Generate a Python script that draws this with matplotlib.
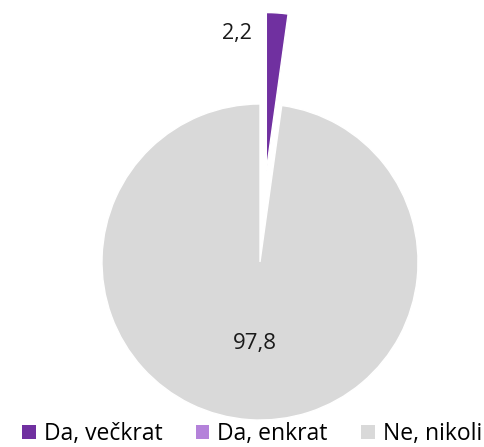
import matplotlib.pyplot as plt
from matplotlib.patches import Patch

labels = ["Da, večkrat", "Da, enkrat", "Ne, nikoli"]
values = [2.2, 0.0, 97.8]
colors = ["#7030A0", "#B482DA", "#D9D9D9"]
explode = [0.58, 0.0, 0.0]

plt.rcParams['font.family'] = ['Open Sans', 'DejaVu Sans']

fig = plt.figure(figsize=(4.85, 4.47), dpi=100)
ax = fig.add_axes([0, 0, 1, 1])

cx, cy, r = 260, 185, 158
# pie explode is in data units, so scale it by the radius
wedges, _ = ax.pie(values, colors=colors, explode=[e * r for e in explode],
                   startangle=90, counterclock=False, center=(cx, cy), radius=r,
                   wedgeprops=dict(edgecolor='white', linewidth=1.0))
ax.set_xlim(0, 485)
ax.set_ylim(0, 447)
ax.set_aspect('equal')
ax.axis('off')

# value labels
ax.text(237, 414, f"{values[0]:.1f}".replace('.', ','), ha='center', va='center',
        fontsize=15.5, color='#1a1a1a')
ax.text(255, 104, f"{values[2]:.1f}".replace('.', ','), ha='center', va='center',
        fontsize=16, color='#1a1a1a')

handles = [Patch(facecolor=c, edgecolor='none') for c in colors]
ax.legend(handles, labels, loc='center', bbox_to_anchor=(252 / 485, 13 / 447),
          ncol=3, frameon=False, fontsize=16.5, handlelength=0.6,
          handleheight=0.6, handletextpad=0.35, columnspacing=1.45,
          borderpad=0, borderaxespad=0)

fig.savefig("out.png", dpi=100)
